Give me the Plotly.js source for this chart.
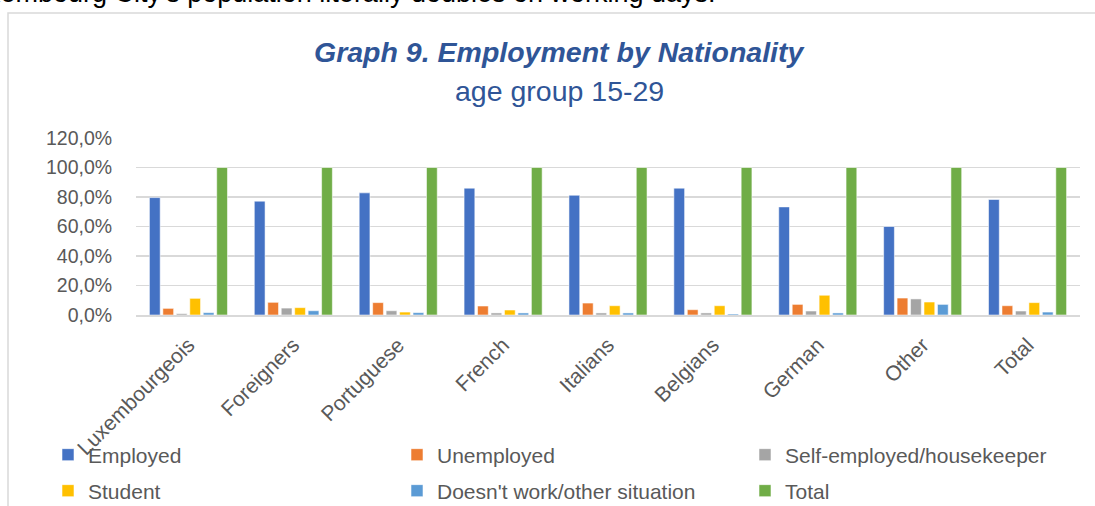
<!DOCTYPE html>
<html>
<head>
<meta charset="utf-8">
<script src="https://cdn.plot.ly/plotly-3.0.1.min.js"></script>
<style>html,body{margin:0;padding:0;background:#fff;}#chart{width:1095px;height:506px;}</style>
</head>
<body>
<div id="chart"></div>
<script>
var categories = ["Luxembourgeois","Foreigners","Portuguese","French","Italians","Belgians","German","Other","Total"];
var employed      = [79.6, 77.2, 82.8, 86.0, 81.2, 86.0, 73.3, 60.0, 78.3];
var unemployed    = [4.5, 8.6, 8.4, 6.1, 8.1, 3.6, 7.2, 11.5, 6.3];
var selfEmployed  = [0.9, 4.7, 2.9, 1.4, 1.4, 1.4, 2.7, 10.9, 2.7];
var student       = [11.3, 5.0, 2.0, 3.4, 6.3, 6.3, 13.4, 8.8, 8.4];
var doesntWork    = [1.6, 2.9, 1.6, 1.4, 1.4, 0.7, 1.4, 7.2, 2.0];
var total         = [100, 100, 100, 100, 100, 100, 100, 100, 100];
var seriesNames = ["Employed","Unemployed","Self-employed/housekeeper","Student","Doesn't work/other situation","Total"];
var yTickVals = [0, 20, 40, 60, 80, 100, 120];
var yTickText = ["0,0%","20,0%","40,0%","60,0%","80,0%","100,0%","120,0%"];

var seriesValues = [employed, unemployed, selfEmployed, student, doesntWork, total];
var colors = ["#4472C4","#ED7D31","#A5A5A5","#FFC000","#5B9BD5","#70AD47"];

// pixel helpers for layout decoration (plot area: x 136..1080, y 138..315)
var L = 136, R = 15, T = 138, B = 191, W = 1095, H = 506;
var PW = W - L - R, PH = H - T - B;
function px(x){ return (x - L) / PW; }
function py(y){ return (H - B - y) / PH; }

var font = "Liberation Sans, Arial, sans-serif";
var legendPos = [[48,455],[397,455],[745,455],[48,491],[397,491],[745,491]];

var traces = seriesValues.map(function(v, i){
  return {
    type: "bar",
    name: seriesNames[i],
    x: categories,
    y: v,
    marker: {color: colors[i], line: {color: "rgba(255,255,255,0.55)", width: 1}},
    legend: i === 0 ? "legend" : "legend" + (i + 1),
    hoverinfo: "x+y+name"
  };
});

var layout = {
  width: W, height: H,
  margin: {l: L, r: R, t: T, b: B, autoexpand: false},
  paper_bgcolor: "#fff", plot_bgcolor: "#fff",
  barmode: "group", bargap: 0.23, bargroupgap: 0.2,
  font: {family: font, color: "#595959"},
  xaxis: {
    type: "category",
    tickangle: -45,
    tickfont: {size: 21, color: "#595959", family: font},
    showline: true, linecolor: "#D9D9D9", linewidth: 1.5,
    ticks: "outside", ticklen: 8, tickcolor: "rgba(0,0,0,0)",
    showgrid: false, automargin: false
  },
  yaxis: {
    range: [0, 120],
    tickvals: yTickVals, ticktext: yTickText,
    tickfont: {size: 19.5, color: "#595959", family: font},
    gridcolor: "#D9D9D9", gridwidth: 1.5,
    zeroline: false, showline: false,
    ticks: "outside", ticklen: 19, tickcolor: "rgba(0,0,0,0)",
    automargin: false, fixedrange: true
  },
  showlegend: true,
  annotations: [
    {text: "Luxembourg City's population literally doubles on working days.", xref: "paper", yref: "paper",
     x: px(718), y: py(10), xanchor: "right", yanchor: "bottom", showarrow: false,
     font: {size: 27, color: "#000", family: font}},
    {text: "<b><i>Graph 9. Employment by Nationality</i></b>", xref: "paper", yref: "paper",
     x: px(559), y: py(52), xanchor: "center", yanchor: "middle", showarrow: false,
     font: {size: 28.5, color: "#2F5597", family: font}},
    {text: "age group 15-29", xref: "paper", yref: "paper",
     x: px(559), y: py(91), xanchor: "center", yanchor: "middle", showarrow: false,
     font: {size: 28.5, color: "#2F5597", family: font}}
  ],
  shapes: [
    {type: "rect", xref: "paper", yref: "paper", x0: px(8), x1: px(1200), y0: py(13), y1: py(600),
     line: {color: "#D9D9D9", width: 1.5}, layer: "below"}
  ]
};

legendPos.forEach(function(p, i){
  var key = i === 0 ? "legend" : "legend" + (i + 1);
  layout[key] = {
    orientation: "h", x: px(p[0]), y: py(p[1]), xanchor: "left", yanchor: "middle",
    font: {size: 21, color: "#595959", family: font}, bgcolor: "rgba(0,0,0,0)",
    itemclick: false, itemdoubleclick: false
  };
});

Plotly.newPlot("chart", traces, layout, {displayModeBar: false, staticPlot: true});
</script>
</body>
</html>
